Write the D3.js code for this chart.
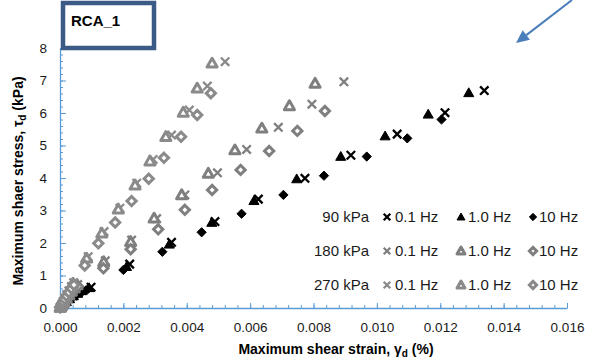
<!DOCTYPE html>
<html>
<head>
<meta charset="utf-8">
<script src="https://cdn.jsdelivr.net/npm/d3@7"></script>
<style>
  body { margin: 0; background: #fff; }
  svg text { font-family: "Liberation Sans", Arial, sans-serif; }
</style>
</head>
<body>
<div id="chart"></div>
<script>
// strain (%) , stress (kPa)
const k90_01 = [[0.00002,0.02],[0.00006,0.06],[0.00012,0.12],[0.0002,0.2],[0.0003,0.29],[0.00042,0.38],[0.00056,0.46],[0.0007,0.54],[0.00098,0.64],
  [0.0022,1.35],[0.00352,2.02],[0.00489,2.66],[0.00626,3.35],[0.00773,3.99],[0.00918,4.70],[0.01064,5.35],[0.01215,6.01],[0.01339,6.69]];
const k90_1 = [[0.00002,0.02],[0.00006,0.06],[0.00012,0.12],[0.0002,0.19],[0.0003,0.28],[0.00042,0.37],[0.00056,0.45],[0.0007,0.53],[0.00092,0.62],
  [0.0021,1.27],[0.00345,1.96],[0.00479,2.63],[0.00612,3.30],[0.00747,3.97],[0.00886,4.66],[0.01026,5.29],[0.01162,5.96],[0.0129,6.62]];
const k90_10 = [[0.00002,0.02],[0.00006,0.05],[0.00012,0.11],[0.0002,0.18],[0.0003,0.26],[0.00042,0.35],[0.00056,0.43],[0.0007,0.5],[0.00088,0.58],
  [0.0020,1.17],[0.00323,1.73],[0.00447,2.33],[0.00573,2.90],[0.00705,3.48],[0.00833,4.07],[0.00968,4.66],[0.01096,5.22],[0.01204,5.80]];

const k180_01 = [[0.00001,0.02],[0.00004,0.06],[0.00008,0.12],[0.00013,0.2],[0.0002,0.3],[0.00028,0.41],[0.00037,0.52],[0.00047,0.62],[0.00056,0.72],
  [0.00143,1.45],[0.00226,2.09],[0.00305,2.75],[0.00394,3.48],[0.00497,4.16],[0.00589,4.88],[0.00689,5.56],[0.00795,6.27],[0.00896,6.96]];
const k180_1 = [[0.00001,0.02],[0.00004,0.06],[0.00008,0.12],[0.00013,0.2],[0.0002,0.3],[0.00028,0.4],[0.00036,0.51],[0.00045,0.61],[0.00054,0.71],
  [0.00138,1.42],[0.00223,2.04],[0.00297,2.76],[0.00384,3.48],[0.00468,4.14],[0.00552,4.86],[0.00637,5.53],[0.00724,6.22],[0.00805,6.91]];
const k180_10 = [[0.00001,0.02],[0.00004,0.05],[0.00008,0.11],[0.00013,0.18],[0.0002,0.27],[0.00028,0.37],[0.00037,0.47],[0.00047,0.57],[0.00057,0.66],
  [0.00137,1.22],[0.00223,1.81],[0.0031,2.42],[0.00394,3.02],[0.0048,3.63],[0.0057,4.25],[0.0066,4.83],[0.00749,5.45],[0.00836,6.06]];

const k270_01 = [[0.00001,0.02],[0.00003,0.06],[0.00006,0.12],[0.0001,0.2],[0.00015,0.3],[0.00021,0.41],[0.00028,0.53],[0.00036,0.66],[0.00043,0.78],
  [0.00089,1.58],[0.00139,2.35],[0.00189,3.07],[0.00242,3.84],[0.00294,4.57],[0.00352,5.32],[0.00408,6.09],[0.00465,6.83],[0.00521,7.58]];
const k270_1 = [[0.00001,0.02],[0.00003,0.06],[0.00006,0.12],[0.0001,0.2],[0.00015,0.29],[0.00021,0.4],[0.00027,0.52],[0.00034,0.64],[0.00041,0.76],
  [0.00084,1.53],[0.00132,2.30],[0.00184,3.04],[0.00237,3.78],[0.00284,4.52],[0.00334,5.27],[0.00389,6.02],[0.00433,6.76],[0.0048,7.53]];
const k270_10 = [[0.00001,0.02],[0.00003,0.05],[0.00006,0.11],[0.0001,0.18],[0.00015,0.27],[0.00021,0.37],[0.00028,0.48],[0.00036,0.6],[0.00044,0.71],
  [0.00078,1.31],[0.00121,1.99],[0.00174,2.63],[0.00226,3.29],[0.0028,3.98],[0.00328,4.62],[0.00382,5.27],[0.00433,5.94],[0.00476,6.61]];

const pressures = ['90 kPa', '180 kPa', '270 kPa'];
const freqs = ['0.1 Hz', '1.0 Hz', '10 Hz'];
const xTicks = [0, 0.002, 0.004, 0.006, 0.008, 0.010, 0.012, 0.014, 0.016];
const yTicks = [0, 1, 2, 3, 4, 5, 6, 7, 8];

const series = [
  { p: 0, f: 0, data: k90_01 }, { p: 0, f: 1, data: k90_1 }, { p: 0, f: 2, data: k90_10 },
  { p: 1, f: 0, data: k180_01 }, { p: 1, f: 1, data: k180_1 }, { p: 1, f: 2, data: k180_10 },
  { p: 2, f: 0, data: k270_01 }, { p: 2, f: 1, data: k270_1 }, { p: 2, f: 2, data: k270_10 }
];
const colors = ['#000000', '#7f7f7f', '#8a8a8a'];

const width = 595, height = 361;
const axisColor = '#5b9bd5';

const svg = d3.select('#chart').append('svg')
    .attr('width', width)
    .attr('height', height);

const x = d3.scaleLinear().domain([0, 0.016]).range([60, 567]);
const y = d3.scaleLinear().domain([0, 8]).range([308, 48]);

// minor ticks first (inside)
svg.append('g')
    .attr('transform', `translate(0,${y(0)})`)
    .call(d3.axisBottom(x).tickValues(d3.range(0, 0.01601, 0.0004)).tickSize(-3).tickFormat(''))
    .call(g => g.select('.domain').remove())
    .call(g => g.selectAll('line').attr('stroke', axisColor));
svg.append('g')
    .attr('transform', `translate(${x(0)},0)`)
    .call(d3.axisLeft(y).tickValues(d3.range(0, 8.01, 0.2)).tickSize(-3).tickFormat(''))
    .call(g => g.select('.domain').remove())
    .call(g => g.selectAll('line').attr('stroke', axisColor));

// major axes
const xAxis = svg.append('g')
    .attr('transform', `translate(0,${y(0)})`)
    .call(d3.axisBottom(x).tickValues(xTicks).tickSizeInner(-5).tickSizeOuter(0).tickPadding(14).tickFormat(d3.format('.3f')));
const yAxis = svg.append('g')
    .attr('transform', `translate(${x(0)},0)`)
    .call(d3.axisLeft(y).tickValues(yTicks).tickSizeInner(-6).tickSizeOuter(0).tickPadding(13).tickFormat(d3.format('d')));

[xAxis, yAxis].forEach(g => {
  g.select('.domain').attr('stroke', axisColor).attr('stroke-width', 1.3);
  g.selectAll('line').attr('stroke', axisColor);
  g.selectAll('text').attr('fill', '#1a1a1a').style('font-size', '13.5px');
});

// marker shapes
function drawMarker(sel, f, color, s) {
  const filled = color === '#000000';
  if (f === 0) {
    sel.append('path')
        .attr('d', `M${-s},${-s}L${s},${s}M${-s},${s}L${s},${-s}`)
        .attr('stroke', color).attr('stroke-width', 2.3).attr('fill', 'none');
  } else if (f === 1) {
    const h = s * 1.2;
    sel.append('path')
        .attr('d', `M0,${-h}L${h},${h * 0.75}L${-h},${h * 0.75}Z`)
        .attr('fill', filled ? color : '#fff')
        .attr('stroke', color).attr('stroke-width', filled ? 1 : 3)
        .attr('stroke-linejoin', 'round');
  } else {
    const h = s * 1.1;
    sel.append('path')
        .attr('d', `M0,${-h}L${h},0L0,${h}L${-h},0Z`)
        .attr('fill', filled ? color : '#fff')
        .attr('stroke', color).attr('stroke-width', filled ? 1 : 3);
  }
}

const plot = svg.append('g');
series.forEach(sr => {
  const g = plot.append('g');
  g.selectAll('g.pt')
    .data(sr.data)
    .join('g')
      .attr('class', 'pt')
      .attr('transform', d => `translate(${x(d[0])},${y(d[1])})`)
      .each(function() { drawMarker(d3.select(this), sr.f, colors[sr.p], 4.2); });
});

// legend
const rowY = [217, 251, 285];
const legend = svg.append('g').style('font-size', '15px').attr('fill', '#1a1a1a');
pressures.forEach((p, i) => {
  legend.append('text').attr('x', 369).attr('y', rowY[i]).attr('dy', '0.36em')
      .attr('text-anchor', 'end').attr('fill', '#1a1a1a').text(p);
  const mx = [387, 461, 533];
  const tx = [395, 468, 539];
  freqs.forEach((fq, j) => {
    const m = legend.append('g').attr('transform', `translate(${mx[j]},${rowY[i]})`);
    drawMarker(m, j, colors[i], 3.3);
    legend.append('text').attr('x', tx[j]).attr('y', rowY[i]).attr('dy', '0.36em')
        .attr('fill', '#1a1a1a').text(fq);
  });
});

// axis titles
svg.append('text')
    .attr('x', 336).attr('y', 354)
    .attr('text-anchor', 'middle')
    .style('font-size', '14px').style('font-weight', 'bold')
    .call(t => {
      t.append('tspan').text('Maximum shear strain, γ');
      t.append('tspan').attr('dy', 3).style('font-size', '10px').text('d');
      t.append('tspan').attr('dy', -3).text(' (%)');
    });

svg.append('text')
    .attr('transform', 'translate(23,181) rotate(-90)')
    .attr('text-anchor', 'middle')
    .style('font-size', '14px').style('font-weight', 'bold')
    .call(t => {
      t.append('tspan').text('Maximum shaer stress, τ');
      t.append('tspan').attr('dy', 3).style('font-size', '10px').text('d');
      t.append('tspan').attr('dy', -3).text(' (kPa)');
    });

// title box
svg.append('rect')
    .attr('x', 63).attr('y', 3).attr('width', 91).attr('height', 45)
    .attr('fill', '#fff').attr('stroke', '#3b5a85').attr('stroke-width', 4.5);
svg.append('text')
    .attr('x', 71).attr('y', 26)
    .style('font-size', '15px').style('font-weight', 'bold')
    .text('RCA_1');

// arrow pointing into the plot
const ax0 = 572, ay0 = 0, ax1 = 516, ay1 = 43;
const ang = Math.atan2(ay1 - ay0, ax1 - ax0);
const hl = 13, hw = 6;
const bx = ax1 - hl * Math.cos(ang), by = ay1 - hl * Math.sin(ang);
svg.append('line')
    .attr('x1', ax0).attr('y1', ay0).attr('x2', bx).attr('y2', by)
    .attr('stroke', '#4a7ebb').attr('stroke-width', 2);
svg.append('path')
    .attr('d', `M${ax1},${ay1}L${bx + hw * Math.sin(ang)},${by - hw * Math.cos(ang)}L${bx - hw * Math.sin(ang)},${by + hw * Math.cos(ang)}Z`)
    .attr('fill', '#4a7ebb');
</script>
</body>
</html>
